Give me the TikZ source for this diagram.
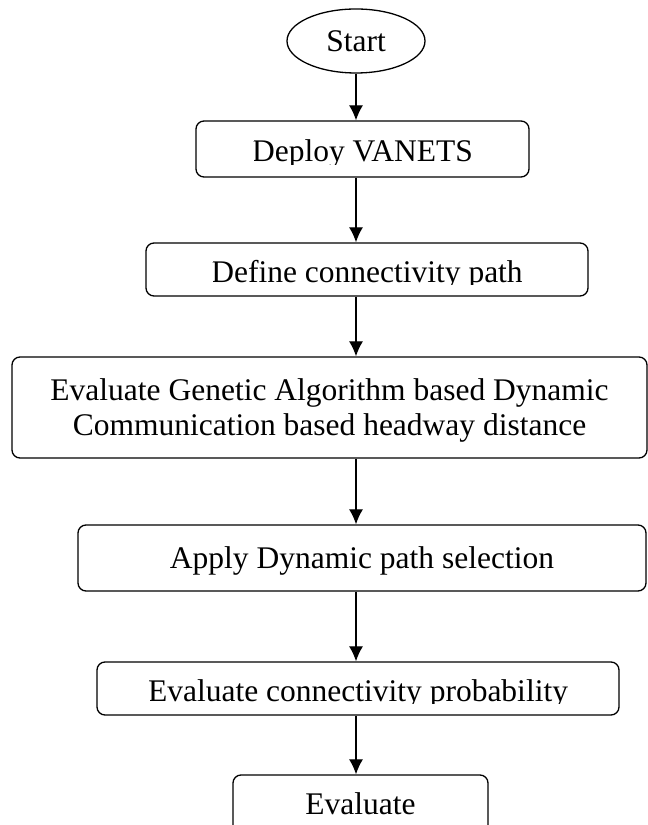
\documentclass[tikz,border=0pt]{standalone}
\usepackage{fontspec}
\setmainfont{Liberation Serif}
\usetikzlibrary{%
	shapes.geometric,%
	arrows.meta
}
% text whose descenders are cut off just below the baseline
\newlength\cutwd
\newcommand{\cuttext}[1]{%
	\settowidth{\cutwd}{#1}%
	\tikz[baseline=0pt]{\clip (0,-2.5pt) rectangle (\cutwd,0.8em);
		\pgftext[left,base]{#1}}}

\begin{document}
\begin{tikzpicture}[x=1pt,y=1pt,>={Latex[length=15pt,width=14pt]},
	every node/.style={font=\fontsize{31.5}{35}\selectfont},
	stepbox/.style={draw,line width=1.3pt,rounded corners=8pt,inner sep=0pt,text depth=0pt,align=center},
	flow/.style={->,line width=1.3pt}]
				% page of the reference, the last box runs off it
				\clip (0,0) rectangle (648,825);
				\coordinate (axis) at (356,0);
				\node[draw,ellipse,line width=1.3pt,minimum width=138pt,minimum height=64pt,inner sep=0pt] (start) at (356,784) {Start};
				\node[stepbox,minimum width=333pt,minimum height=56pt] (deploy) at (362.5,676) {\cuttext{Deploy VANETS}};
				\node[stepbox,minimum width=442pt,minimum height=53pt] (define) at (367,555.5) {\cuttext{Define connectivity path}};
				\node[stepbox,minimum width=635pt,minimum height=101pt] (genetic) at (329.5,417.5) {Evaluate Genetic Algorithm based Dynamic\\Communication based headway distance};
				\node[stepbox,minimum width=568pt,minimum height=66pt] (apply) at (362,267) {Apply Dynamic path selection};
				\node[stepbox,minimum width=522pt,minimum height=53pt] (prob) at (358,136.5) {\cuttext{Evaluate connectivity probability}};
				\node[stepbox,minimum width=255pt,minimum height=58pt] (evaluate) at (360.5,21) {Evaluate};
				% arrows down the middle
				\draw[flow] (start.south) -- (start.south |- deploy.north);
				\draw[flow] (deploy.south -| axis) -- (define.north -| axis);
				\draw[flow] (define.south -| axis) -- (genetic.north -| axis);
				\draw[flow] (genetic.south -| axis) -- (apply.north -| axis);
				\draw[flow] (apply.south -| axis) -- (prob.north -| axis);
				\draw[flow] (prob.south -| axis) -- (evaluate.north -| axis);
\end{tikzpicture}
\end{document}
